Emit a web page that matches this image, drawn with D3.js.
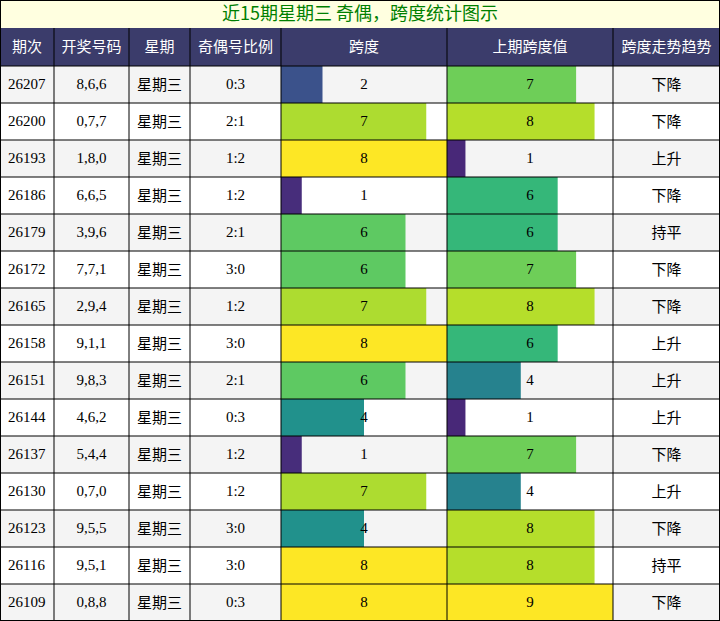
<!DOCTYPE html>
<html><head><meta charset="utf-8">
<script src="https://cdn.jsdelivr.net/npm/d3@7"></script>
<style>body{margin:0;background:#fff}</style>
</head><body>
<svg id="c" width="720" height="621"></svg>
<script>
const title = "近15期星期三 奇偶，跨度统计图示";
const headers = ["期次","开奖号码","星期","奇偶号比例","跨度","上期跨度值","跨度走势趋势"];
const periods = ["26207","26200","26193","26186","26179","26172","26165","26158","26151","26144","26137","26130","26123","26116","26109"];
const numbers = ["8,6,6","0,7,7","1,8,0","6,6,5","3,9,6","7,7,1","2,9,4","9,1,1","9,8,3","4,6,2","5,4,4","0,7,0","9,5,5","9,5,1","0,8,8"];
const weekdays = periods.map(()=> "星期三");
const ratios = ["0:3","2:1","1:2","1:2","2:1","3:0","1:2","3:0","2:1","0:3","1:2","1:2","3:0","3:0","0:3"];
const spans = [2,7,8,1,6,6,7,8,6,4,1,7,4,8,8];
const prevSpans = [7,8,1,6,6,7,8,6,4,1,7,4,8,8,9];
const trends = ["下降","下降","上升","下降","持平","下降","下降","上升","上升","上升","下降","上升","下降","持平","下降"];

const svg = d3.select("#c");
const xs = [0,54,129,190,281,447,613,720];
const titleH = 28, headH = 38, rowH = 37;
const sans = "'Noto Sans CJK SC', sans-serif", serif = "'Liberation Serif', serif";

svg.append("rect").attr("x",0.5).attr("y",0.5).attr("width",719).attr("height",titleH).attr("fill","#ffffe0").attr("stroke","#000");
svg.append("text").attr("x",360).attr("y",titleH/2+1).attr("text-anchor","middle").attr("dominant-baseline","middle")
  .attr("font-family",sans).attr("font-size",18).attr("fill","#008000").text(title);

svg.append("rect").attr("x",0).attr("y",titleH).attr("width",720).attr("height",headH).attr("fill","#3b3c6b");
headers.forEach((h,i)=>{
  svg.append("text").attr("x",(xs[i]+xs[i+1])/2).attr("y",titleH+headH/2+1).attr("text-anchor","middle")
    .attr("dominant-baseline","middle").attr("font-family",sans).attr("font-size",15).attr("fill","#fff").text(h);
});

const y0 = titleH+headH;
const x1 = d3.scaleLinear().domain([0,d3.max(spans)]).range([0,xs[5]-xs[4]]);
const x2 = d3.scaleLinear().domain([0,d3.max(prevSpans)]).range([0,xs[6]-xs[5]]);
const c1 = v=>d3.interpolateViridis(v/d3.max(spans));
const c2 = v=>d3.interpolateViridis(v/d3.max(prevSpans));

periods.forEach((p,r)=>{
  const y = y0 + r*rowH;
  svg.append("rect").attr("x",0).attr("y",y).attr("width",720).attr("height",rowH).attr("fill", r%2===0?"#f4f4f4":"#fff");
  svg.append("rect").attr("x",xs[4]).attr("y",y).attr("width",x1(spans[r])).attr("height",rowH).attr("fill",c1(spans[r]));
  svg.append("rect").attr("x",xs[5]).attr("y",y).attr("width",x2(prevSpans[r])).attr("height",rowH).attr("fill",c2(prevSpans[r]));
  const cells = [[p,serif],[numbers[r],serif],[weekdays[r],sans],[ratios[r],serif],[spans[r],serif],[prevSpans[r],serif],[trends[r],sans]];
  cells.forEach((c,i)=>{
    svg.append("text").attr("x", i===0? xs[0]+8 : (xs[i]+xs[i+1])/2).attr("y",y+rowH/2+1)
      .attr("text-anchor", i===0?"start":"middle").attr("dominant-baseline","middle")
      .attr("font-family",c[1]).attr("font-size",15).attr("fill","#000").text(c[0]);
  });
});
// grid
for(let r=0;r<=15;r++){
  const y=y0+r*rowH;
  svg.append("line").attr("x1",0).attr("x2",720).attr("y1",y).attr("y2",y).attr("stroke","#000").attr("stroke-width",1);
}
xs.forEach(x=>{
  const xx = x===0?0.5:(x===720?719.5:x);
  svg.append("line").attr("x1",xx).attr("x2",xx).attr("y1",titleH).attr("y2",621).attr("stroke","#000");
});
svg.append("line").attr("x1",0).attr("x2",720).attr("y1",620.5).attr("y2",620.5).attr("stroke","#000");
</script>
</body></html>
